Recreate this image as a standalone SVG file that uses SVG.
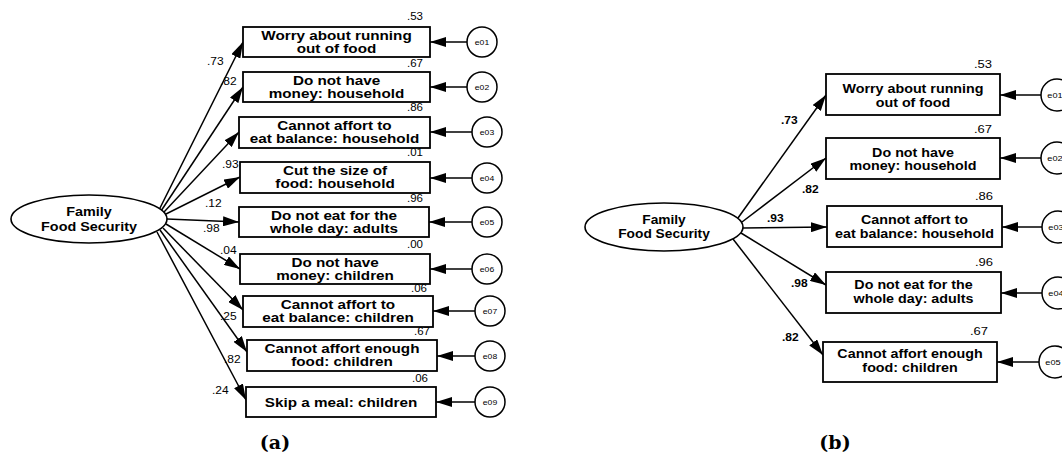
<svg xmlns="http://www.w3.org/2000/svg" width="1062" height="455" viewBox="0 0 1062 455">
<style>
  .box{fill:#fff;stroke:#000;stroke-width:1.8}
  .lat{fill:#fff;stroke:#000;stroke-width:1.6}
  .err{fill:#fff;stroke:#000;stroke-width:1.5}
  .con line{stroke:#000;stroke-width:1.5;fill:none;marker-end:url(#ah)}
  text{font-family:"Liberation Sans",Arial,sans-serif;fill:#000}
  .bt{font-weight:bold;font-size:12.5px;text-anchor:middle}
  .btb{font-weight:bold;font-size:13px;text-anchor:middle}
  .lt{font-weight:bold;font-size:12.5px;text-anchor:middle}
  .v{font-size:10px;text-anchor:end}
  .vb{font-size:10px;text-anchor:end}
  .ld{font-size:10px}
  .ldb{font-size:10px;font-weight:bold}
  .el{font-size:7.5px;text-anchor:middle}
  .elb{font-size:8px;text-anchor:middle}
  .cap{font-family:"DejaVu Serif","Liberation Serif",serif;font-weight:bold;font-size:19px;text-anchor:middle}
</style>
<defs>
  <marker id="ah" markerUnits="userSpaceOnUse" markerWidth="16" markerHeight="10" refX="16" refY="5" orient="auto">
    <path d="M0,0 L16,5 L0,10 Z" fill="#000"/>
  </marker>
</defs>

<!-- ===== Panel (a) ===== -->
<g id="a-connectors" class="con">
  <line x1="159" y1="210" x2="243" y2="42"/>
  <line x1="161" y1="211" x2="243" y2="87"/>
  <line x1="164" y1="212" x2="239" y2="132"/>
  <line x1="166" y1="214" x2="240" y2="177"/>
  <line x1="167" y1="219" x2="239" y2="222"/>
  <line x1="166" y1="224" x2="240" y2="269"/>
  <line x1="163" y1="228" x2="243" y2="310"/>
  <line x1="160" y1="230" x2="247" y2="352"/>
  <line x1="157" y1="232" x2="246" y2="400"/>
  <line x1="467" y1="42" x2="430" y2="42"/>
  <line x1="467" y1="87" x2="430" y2="87"/>
  <line x1="472" y1="132" x2="430" y2="132"/>
  <line x1="472" y1="178" x2="430" y2="178"/>
  <line x1="472" y1="222" x2="429" y2="222"/>
  <line x1="472" y1="269" x2="430" y2="269"/>
  <line x1="475" y1="311" x2="433" y2="311"/>
  <line x1="475" y1="356" x2="437" y2="356"/>
  <line x1="475" y1="402" x2="436" y2="402"/>
</g>

<g id="a-loadings">
  <text class="ld" transform="translate(207 65) scale(1.2 1)">.73</text>
  <text class="ld" transform="translate(220 85) scale(1.2 1)">.82</text>
  <text class="ld" transform="translate(222 168) scale(1.2 1)">.93</text>
  <text class="ld" transform="translate(205 207) scale(1.2 1)">.12</text>
  <text class="ld" transform="translate(203 232) scale(1.2 1)">.98</text>
  <text class="ld" transform="translate(220 254) scale(1.2 1)">.04</text>
  <text class="ld" transform="translate(220 320) scale(1.2 1)">.25</text>
  <text class="ld" transform="translate(224 363) scale(1.2 1)">.82</text>
  <text class="ld" transform="translate(212 394) scale(1.2 1)">.24</text>
</g>

<g id="a-latent">
  <ellipse class="lat" cx="89" cy="219" rx="78" ry="24"/>
  <text class="lt" transform="translate(89 216) scale(1.15 1)">Family</text>
  <text class="lt" transform="translate(89 231) scale(1.15 1)">Food Security</text>
</g>

<g id="a-item1">
  <rect class="box" x="243" y="27" width="187" height="30"/>
  <text class="bt" transform="translate(336.5 39.5) scale(1.22 1)">Worry about running</text>
  <text class="bt" transform="translate(336.5 53) scale(1.22 1)">out of food</text>
  <text class="v" transform="translate(423 20) scale(1.15 1)">.53</text>
</g>
<g id="a-item2">
  <rect class="box" x="243" y="72" width="187" height="30"/>
  <text class="bt" transform="translate(336.5 84.5) scale(1.22 1)">Do not have</text>
  <text class="bt" transform="translate(336.5 98) scale(1.22 1)">money: household</text>
  <text class="v" transform="translate(423 67) scale(1.15 1)">.67</text>
</g>
<g id="a-item3">
  <rect class="box" x="239" y="117" width="191" height="31"/>
  <text class="bt" transform="translate(334.5 129.5) scale(1.22 1)">Cannot affort to</text>
  <text class="bt" transform="translate(334.5 143) scale(1.22 1)">eat balance: household</text>
  <text class="v" transform="translate(423 111) scale(1.15 1)">.86</text>
</g>
<g id="a-item4">
  <rect class="box" x="240" y="162" width="190" height="31"/>
  <text class="bt" transform="translate(335 174.5) scale(1.22 1)">Cut the size of</text>
  <text class="bt" transform="translate(335 188) scale(1.22 1)">food: household</text>
  <text class="v" transform="translate(423 156) scale(1.15 1)">.01</text>
</g>
<g id="a-item5">
  <rect class="box" x="239" y="207" width="190" height="30"/>
  <text class="bt" transform="translate(334 219.5) scale(1.22 1)">Do not eat for the</text>
  <text class="bt" transform="translate(334 233) scale(1.22 1)">whole day: adults</text>
  <text class="v" transform="translate(423 201.5) scale(1.15 1)">.96</text>
</g>
<g id="a-item6">
  <rect class="box" x="240" y="254" width="190" height="30"/>
  <text class="bt" transform="translate(335 266.5) scale(1.22 1)">Do not have</text>
  <text class="bt" transform="translate(335 280) scale(1.22 1)">money: children</text>
  <text class="v" transform="translate(423 248) scale(1.15 1)">.00</text>
</g>
<g id="a-item7">
  <rect class="box" x="243" y="296" width="190" height="31"/>
  <text class="bt" transform="translate(338 308.5) scale(1.22 1)">Cannot affort to</text>
  <text class="bt" transform="translate(338 322) scale(1.22 1)">eat balance: children</text>
  <text class="v" transform="translate(427 291.5) scale(1.15 1)">.06</text>
</g>
<g id="a-item8">
  <rect class="box" x="247" y="340" width="190" height="31"/>
  <text class="bt" transform="translate(342 352.5) scale(1.22 1)">Cannot affort enough</text>
  <text class="bt" transform="translate(342 366) scale(1.22 1)">food: children</text>
  <text class="v" transform="translate(430 335) scale(1.15 1)">.67</text>
</g>
<g id="a-item9">
  <rect class="box" x="246" y="387" width="190" height="30"/>
  <text class="bt" transform="translate(341 406.5) scale(1.22 1)">Skip a meal: children</text>
  <text class="v" transform="translate(428 382) scale(1.15 1)">.06</text>
</g>

<g id="a-e01"><circle class="err" cx="482" cy="42" r="15"/><text class="el" transform="translate(482 44.5) scale(1.15 1)">e01</text></g>
<g id="a-e02"><circle class="err" cx="482" cy="87" r="15"/><text class="el" transform="translate(482 89.5) scale(1.15 1)">e02</text></g>
<g id="a-e03"><circle class="err" cx="487" cy="132" r="15"/><text class="el" transform="translate(487 134.5) scale(1.15 1)">e03</text></g>
<g id="a-e04"><circle class="err" cx="487" cy="178" r="15"/><text class="el" transform="translate(487 180.5) scale(1.15 1)">e04</text></g>
<g id="a-e05"><circle class="err" cx="487" cy="222" r="15"/><text class="el" transform="translate(487 224.5) scale(1.15 1)">e05</text></g>
<g id="a-e06"><circle class="err" cx="487" cy="269" r="15"/><text class="el" transform="translate(487 271.5) scale(1.15 1)">e06</text></g>
<g id="a-e07"><circle class="err" cx="490" cy="311" r="15"/><text class="el" transform="translate(490 313.5) scale(1.15 1)">e07</text></g>
<g id="a-e08"><circle class="err" cx="490" cy="356" r="15"/><text class="el" transform="translate(490 358.5) scale(1.15 1)">e08</text></g>
<g id="a-e09"><circle class="err" cx="490" cy="402" r="15"/><text class="el" transform="translate(490 404.5) scale(1.15 1)">e09</text></g>

<text id="cap-a" class="cap" x="275" y="449">(a)</text>

<!-- ===== Panel (b) ===== -->
<g id="b-connectors" class="con">
  <line x1="738" y1="218" x2="826" y2="95"/>
  <line x1="742" y1="222" x2="826" y2="158"/>
  <line x1="743" y1="228" x2="827" y2="227"/>
  <line x1="741" y1="233" x2="826" y2="285"/>
  <line x1="733" y1="239" x2="823" y2="355"/>
  <line x1="1041" y1="95" x2="1000" y2="95"/>
  <line x1="1041" y1="158" x2="1000" y2="158"/>
  <line x1="1042" y1="227" x2="1002" y2="227"/>
  <line x1="1042" y1="293" x2="1001" y2="293"/>
  <line x1="1039" y1="362" x2="997" y2="362"/>
</g>

<g id="b-loadings">
  <text class="ldb" transform="translate(781 124) scale(1.2 1)">.73</text>
  <text class="ldb" transform="translate(802 193) scale(1.2 1)">.82</text>
  <text class="ldb" transform="translate(767 222) scale(1.2 1)">.93</text>
  <text class="ldb" transform="translate(791 287) scale(1.2 1)">.98</text>
  <text class="ldb" transform="translate(782 341) scale(1.2 1)">.82</text>
</g>

<g id="b-latent">
  <ellipse class="lat" cx="664" cy="227" rx="79" ry="24"/>
  <text class="lt" transform="translate(664 224) scale(1.1 1)">Family</text>
  <text class="lt" transform="translate(664 238) scale(1.1 1)">Food Security</text>
</g>

<g id="b-item1">
  <rect class="box" x="826" y="74" width="174" height="41"/>
  <text class="btb" transform="translate(913 93) scale(1.1 1)">Worry about running</text>
  <text class="btb" transform="translate(913 106.5) scale(1.1 1)">out of food</text>
  <text class="vb" transform="translate(992 68) scale(1.3 1)">.53</text>
</g>
<g id="b-item2">
  <rect class="box" x="826" y="138" width="174" height="41"/>
  <text class="btb" transform="translate(913 156.7) scale(1.1 1)">Do not have</text>
  <text class="btb" transform="translate(913 170.2) scale(1.1 1)">money: household</text>
  <text class="vb" transform="translate(992 133) scale(1.3 1)">.67</text>
</g>
<g id="b-item3">
  <rect class="box" x="827" y="206" width="175" height="41"/>
  <text class="btb" transform="translate(914.5 224.2) scale(1.1 1)">Cannot affort to</text>
  <text class="btb" transform="translate(914.5 238) scale(1.1 1)">eat balance: household</text>
  <text class="vb" transform="translate(993 200) scale(1.3 1)">.86</text>
</g>
<g id="b-item4">
  <rect class="box" x="826" y="272" width="175" height="41"/>
  <text class="btb" transform="translate(913.5 289.3) scale(1.1 1)">Do not eat for the</text>
  <text class="btb" transform="translate(913.5 302.8) scale(1.1 1)">whole day: adults</text>
  <text class="vb" transform="translate(993 266) scale(1.3 1)">.96</text>
</g>
<g id="b-item5">
  <rect class="box" x="823" y="342" width="174" height="40"/>
  <text class="btb" transform="translate(910 358.3) scale(1.1 1)">Cannot affort enough</text>
  <text class="btb" transform="translate(910 371.8) scale(1.1 1)">food: children</text>
  <text class="vb" transform="translate(988 335) scale(1.3 1)">.67</text>
</g>

<g id="b-e01"><circle class="err" cx="1057" cy="95" r="16"/><text class="elb" transform="translate(1055 98) scale(1.15 1)">e01</text></g>
<g id="b-e02"><circle class="err" cx="1057" cy="158" r="16"/><text class="elb" transform="translate(1055 161) scale(1.15 1)">e02</text></g>
<g id="b-e03"><circle class="err" cx="1058" cy="227" r="16"/><text class="elb" transform="translate(1056 230) scale(1.15 1)">e03</text></g>
<g id="b-e04"><circle class="err" cx="1058" cy="293" r="16"/><text class="elb" transform="translate(1056 296) scale(1.15 1)">e04</text></g>
<g id="b-e05"><circle class="err" cx="1055" cy="362" r="16"/><text class="elb" transform="translate(1053 365) scale(1.15 1)">e05</text></g>

<text id="cap-b" class="cap" x="835" y="449">(b)</text>
</svg>
